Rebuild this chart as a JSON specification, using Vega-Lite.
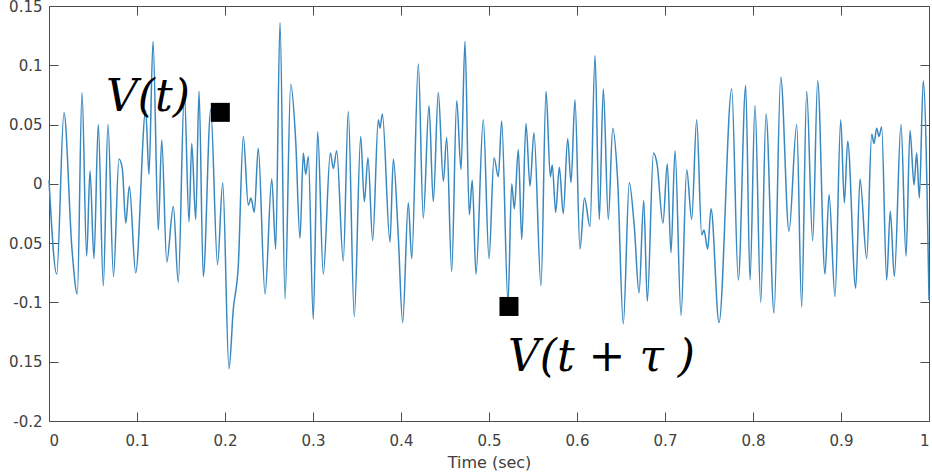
{
  "$schema": "https://vega.github.io/schema/vega-lite/v6.json",
  "width": 880,
  "height": 415,
  "autosize": {"type": "none"},
  "padding": {"left": 49, "top": 6, "right": 3, "bottom": 55},
  "background": "white",
  "config": {
    "view": {"stroke": null},
    "axis": {
      "domainColor": "#4d4d4d",
      "tickColor": "#4d4d4d",
      "tickSize": -9,
      "labelFont": "DejaVu Sans",
      "labelFontSize": 15,
      "labelColor": "#404040",
      "titleFont": "DejaVu Sans",
      "titleFontSize": 16,
      "titleColor": "#404040",
      "titleFontWeight": "normal",
      "grid": false
    }
  },
  "datasets": {
    "signal": [
      {"t": 0.0000, "v": 0.003}, {"t": 0.0088, "v": -0.076}, {"t": 0.0170, "v": 0.060}, {"t": 0.0261, "v": -0.055},
      {"t": 0.0322, "v": -0.093}, {"t": 0.0375, "v": 0.077}, {"t": 0.0428, "v": -0.061}, {"t": 0.0466, "v": 0.011},
      {"t": 0.0511, "v": -0.063}, {"t": 0.0560, "v": 0.050}, {"t": 0.0617, "v": -0.086}, {"t": 0.0670, "v": 0.050},
      {"t": 0.0733, "v": -0.078}, {"t": 0.0795, "v": 0.021}, {"t": 0.0833, "v": 0.013}, {"t": 0.0872, "v": -0.033},
      {"t": 0.0913, "v": -0.002}, {"t": 0.0985, "v": -0.075}, {"t": 0.1099, "v": 0.062}, {"t": 0.1136, "v": 0.008},
      {"t": 0.1182, "v": 0.120}, {"t": 0.1242, "v": -0.039}, {"t": 0.1281, "v": 0.037}, {"t": 0.1338, "v": -0.066},
      {"t": 0.1413, "v": -0.019}, {"t": 0.1469, "v": -0.083}, {"t": 0.1538, "v": 0.078}, {"t": 0.1591, "v": -0.032},
      {"t": 0.1622, "v": 0.034}, {"t": 0.1667, "v": -0.030}, {"t": 0.1705, "v": 0.078}, {"t": 0.1753, "v": -0.078},
      {"t": 0.1838, "v": 0.063}, {"t": 0.1915, "v": -0.068}, {"t": 0.1974, "v": 0.001}, {"t": 0.2045, "v": -0.156},
      {"t": 0.2094, "v": -0.106}, {"t": 0.2151, "v": -0.069}, {"t": 0.2208, "v": 0.040}, {"t": 0.2265, "v": -0.018},
      {"t": 0.2295, "v": -0.012}, {"t": 0.2333, "v": -0.024}, {"t": 0.2378, "v": 0.030}, {"t": 0.2455, "v": -0.093},
      {"t": 0.2531, "v": 0.004}, {"t": 0.2576, "v": -0.055}, {"t": 0.2625, "v": 0.136}, {"t": 0.2682, "v": -0.097},
      {"t": 0.2747, "v": 0.084}, {"t": 0.2803, "v": 0.037}, {"t": 0.2852, "v": -0.046}, {"t": 0.2890, "v": 0.026},
      {"t": 0.2917, "v": 0.008}, {"t": 0.2947, "v": 0.023}, {"t": 0.3003, "v": -0.114}, {"t": 0.3053, "v": 0.044},
      {"t": 0.3117, "v": -0.076}, {"t": 0.3197, "v": 0.026}, {"t": 0.3231, "v": 0.013}, {"t": 0.3269, "v": 0.028},
      {"t": 0.3344, "v": -0.065}, {"t": 0.3401, "v": 0.061}, {"t": 0.3469, "v": -0.112}, {"t": 0.3542, "v": 0.040},
      {"t": 0.3583, "v": -0.015}, {"t": 0.3625, "v": 0.022}, {"t": 0.3678, "v": -0.048}, {"t": 0.3742, "v": 0.054},
      {"t": 0.3761, "v": 0.047}, {"t": 0.3788, "v": 0.059}, {"t": 0.3875, "v": -0.049}, {"t": 0.3913, "v": 0.021},
      {"t": 0.3969, "v": -0.044}, {"t": 0.4019, "v": -0.117}, {"t": 0.4083, "v": -0.016}, {"t": 0.4122, "v": -0.063},
      {"t": 0.4197, "v": 0.101}, {"t": 0.4253, "v": -0.029}, {"t": 0.4318, "v": 0.066}, {"t": 0.4367, "v": -0.015},
      {"t": 0.4424, "v": 0.077}, {"t": 0.4481, "v": 0.002}, {"t": 0.4519, "v": 0.039}, {"t": 0.4576, "v": -0.074},
      {"t": 0.4633, "v": 0.070}, {"t": 0.4682, "v": 0.012}, {"t": 0.4727, "v": 0.120}, {"t": 0.4776, "v": -0.026},
      {"t": 0.4810, "v": 0.003}, {"t": 0.4852, "v": -0.076}, {"t": 0.4935, "v": 0.054}, {"t": 0.5000, "v": -0.063},
      {"t": 0.5057, "v": 0.022}, {"t": 0.5106, "v": 0.006}, {"t": 0.5144, "v": 0.053}, {"t": 0.5216, "v": -0.100},
      {"t": 0.5258, "v": 0.000}, {"t": 0.5288, "v": -0.021}, {"t": 0.5333, "v": 0.029}, {"t": 0.5372, "v": -0.047},
      {"t": 0.5420, "v": 0.051}, {"t": 0.5466, "v": -0.002}, {"t": 0.5511, "v": 0.043}, {"t": 0.5591, "v": -0.086},
      {"t": 0.5648, "v": 0.078}, {"t": 0.5697, "v": 0.006}, {"t": 0.5719, "v": 0.016}, {"t": 0.5758, "v": -0.024},
      {"t": 0.5799, "v": 0.014}, {"t": 0.5844, "v": -0.025}, {"t": 0.5894, "v": 0.038}, {"t": 0.5932, "v": 0.001},
      {"t": 0.5977, "v": 0.071}, {"t": 0.6034, "v": -0.055}, {"t": 0.6085, "v": -0.012}, {"t": 0.6148, "v": -0.036},
      {"t": 0.6205, "v": 0.108}, {"t": 0.6253, "v": -0.030}, {"t": 0.6299, "v": 0.080}, {"t": 0.6356, "v": -0.030},
      {"t": 0.6406, "v": 0.047}, {"t": 0.6462, "v": 0.003}, {"t": 0.6526, "v": -0.118}, {"t": 0.6594, "v": 0.001},
      {"t": 0.6651, "v": -0.036}, {"t": 0.6705, "v": -0.092}, {"t": 0.6758, "v": -0.014}, {"t": 0.6799, "v": -0.099},
      {"t": 0.6869, "v": 0.026}, {"t": 0.6909, "v": 0.017}, {"t": 0.6977, "v": -0.033}, {"t": 0.7026, "v": 0.017},
      {"t": 0.7068, "v": -0.058}, {"t": 0.7114, "v": 0.028}, {"t": 0.7182, "v": -0.111}, {"t": 0.7247, "v": 0.012},
      {"t": 0.7303, "v": -0.030}, {"t": 0.7360, "v": 0.054}, {"t": 0.7417, "v": -0.043}, {"t": 0.7443, "v": -0.039},
      {"t": 0.7485, "v": -0.055}, {"t": 0.7523, "v": -0.021}, {"t": 0.7614, "v": -0.117}, {"t": 0.7758, "v": 0.080},
      {"t": 0.7833, "v": -0.081}, {"t": 0.7917, "v": 0.083}, {"t": 0.7966, "v": -0.081}, {"t": 0.8023, "v": 0.066},
      {"t": 0.8088, "v": -0.100}, {"t": 0.8148, "v": 0.059}, {"t": 0.8239, "v": -0.109}, {"t": 0.8315, "v": 0.090},
      {"t": 0.8409, "v": -0.040}, {"t": 0.8497, "v": 0.050}, {"t": 0.8553, "v": -0.104}, {"t": 0.8610, "v": 0.078},
      {"t": 0.8678, "v": -0.048}, {"t": 0.8735, "v": 0.087}, {"t": 0.8818, "v": -0.076}, {"t": 0.8864, "v": -0.009},
      {"t": 0.8932, "v": -0.095}, {"t": 0.8997, "v": 0.054}, {"t": 0.9038, "v": -0.016}, {"t": 0.9076, "v": 0.036},
      {"t": 0.9167, "v": -0.088}, {"t": 0.9216, "v": 0.004}, {"t": 0.9292, "v": -0.063}, {"t": 0.9349, "v": 0.042},
      {"t": 0.9375, "v": 0.034}, {"t": 0.9405, "v": 0.047}, {"t": 0.9432, "v": 0.040}, {"t": 0.9462, "v": 0.048},
      {"t": 0.9519, "v": -0.081}, {"t": 0.9560, "v": -0.023}, {"t": 0.9606, "v": -0.078}, {"t": 0.9682, "v": 0.050},
      {"t": 0.9739, "v": -0.061}, {"t": 0.9784, "v": 0.045}, {"t": 0.9830, "v": -0.001}, {"t": 0.9860, "v": 0.026},
      {"t": 0.9890, "v": -0.012}, {"t": 0.9935, "v": 0.087}, {"t": 1.0000, "v": -0.098}
    ],
    "markers": [
      {"t": 0.1947, "v": 0.0603},
      {"t": 0.5227, "v": -0.1034}
    ],
    "labels": [
      {"t": 0.0648, "v": 0.0613, "label": "V(t)"},
      {"t": 0.5216, "v": -0.1577, "label": "V(t + τ )"}
    ]
  },
  "layer": [
    {
      "encoding": {
        "x": {
          "field": "t", "type": "quantitative",
          "scale": {"domain": [0, 1], "nice": false, "zero": false},
          "axis": {
            "orient": "bottom",
            "values": [0, 0.1, 0.2, 0.3, 0.4, 0.5, 0.6, 0.7, 0.8, 0.9, 1],
            "labelExpr": "format(datum.value, '~g')",
            "labelPadding": 21,
            "title": "Time (sec)",
            "titlePadding": 6
          }
        },
        "y": {
          "field": "v", "type": "quantitative",
          "scale": {"domain": [-0.2, 0.15], "nice": false, "zero": false},
          "axis": {
            "orient": "left",
            "values": [-0.2, -0.15, -0.1, -0.05, 0, 0.05, 0.1, 0.15],
            "labelExpr": "abs(datum.value + 0.05) < 1e-9 ? '0.05' : abs(datum.value + 0.15) < 1e-9 ? '0.15' : (datum.value < 0 ? '-' + format(-datum.value, '~g') : format(datum.value, '~g'))",
            "labelPadding": 16,
            "title": null
          }
        }
      },
      "layer": [
        {
          "data": {"name": "signal"},
          "mark": {"type": "line", "interpolate": "monotone", "color": "#3a88c0", "strokeWidth": 1.5}
        },
        {
          "data": {"name": "markers"},
          "mark": {"type": "point", "shape": "square", "filled": true, "color": "black", "opacity": 1, "size": 361}
        },
        {
          "data": {"name": "labels"},
          "mark": {"type": "text", "align": "left", "baseline": "alphabetic", "font": "DejaVu Serif", "fontStyle": "italic", "fontSize": 44, "color": "black"},
          "encoding": {"text": {"field": "label"}}
        }
      ]
    },
    {
      "data": {"name": "signal"},
      "mark": {"type": "point", "opacity": 0},
      "encoding": {
        "x": {
          "field": "t", "type": "quantitative",
          "scale": {"domain": [0, 1], "nice": false, "zero": false},
          "axis": {"orient": "top", "values": [0, 0.1, 0.2, 0.3, 0.4, 0.5, 0.6, 0.7, 0.8, 0.9, 1], "labels": false, "title": null}
        },
        "y": {
          "field": "v", "type": "quantitative",
          "scale": {"domain": [-0.2, 0.15], "nice": false, "zero": false},
          "axis": {"orient": "right", "values": [-0.2, -0.15, -0.1, -0.05, 0, 0.05, 0.1, 0.15], "labels": false, "title": null}
        }
      }
    }
  ],
  "resolve": {"scale": {"x": "independent", "y": "independent"}, "axis": {"x": "independent", "y": "independent"}}
}
